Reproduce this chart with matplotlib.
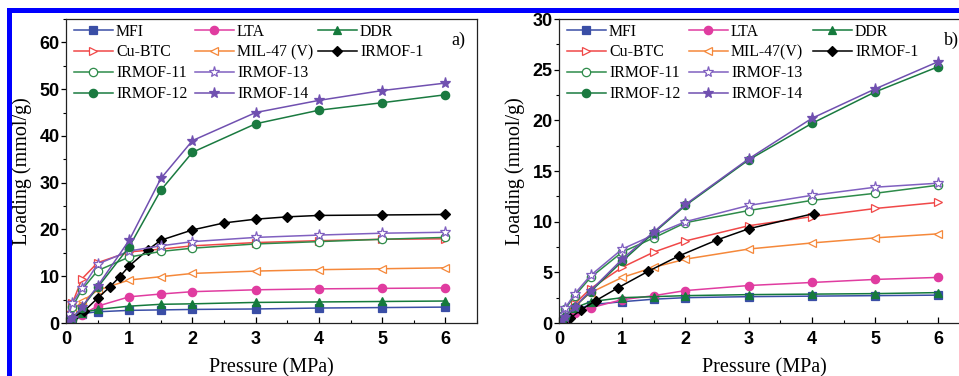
import matplotlib
matplotlib.use('Agg')
import matplotlib.pyplot as plt
from matplotlib.legend import Legend
from matplotlib.patches import Rectangle
from matplotlib.ticker import MultipleLocator

# --- datos ------------------------------------------------------------------
p_std = [0.05, 0.1, 0.25, 0.5, 1, 1.5, 2, 3, 4, 5, 6]

# panel a)
mfi_a = [0.6, 1.2, 2.0, 2.4, 2.7, 2.8, 2.9, 3.0, 3.2, 3.3, 3.4]
lta_a = [0.3, 0.7, 1.8, 3.6, 5.6, 6.2, 6.7, 7.1, 7.3, 7.4, 7.5]
ddr_a = [0.5, 1.0, 2.2, 2.9, 3.6, 4.0, 4.1, 4.4, 4.5, 4.6, 4.7]
cubtc_a = [2.0, 4.2, 9.4, 12.9, 15.2, 15.8, 16.5, 17.2, 17.6, 17.9, 18.0]
mil47_a = [1.2, 2.5, 4.6, 7.0, 9.2, 9.9, 10.6, 11.1, 11.4, 11.6, 11.8]
irmof1_p_a = [0.1, 0.29, 0.5, 0.7, 0.85, 1.0, 1.3, 1.5, 2.0, 2.5, 3.0, 3.5, 4.0, 5.0, 6.0]
irmof1_a = [1.1, 2.6, 5.3, 7.8, 9.9, 12.2, 15.7, 17.7, 19.9, 21.4, 22.2, 22.7, 23.0, 23.1, 23.2]
irmof11_a = [1.5, 3.4, 7.1, 11.2, 14.1, 15.3, 16.0, 16.9, 17.4, 17.9, 18.3]
irmof13_a = [2.0, 4.3, 7.4, 12.6, 15.4, 16.5, 17.4, 18.3, 18.8, 19.2, 19.4]
irmof12_a = [0.4, 0.9, 3.3, 7.6, 16.3, 28.4, 36.5, 42.6, 45.5, 47.1, 48.8]
irmof14_a = [0.4, 1.0, 3.4, 7.9, 17.7, 30.9, 39.0, 45.0, 47.6, 49.7, 51.3]

# panel b)
mfi_b = [0.4, 0.7, 1.3, 1.8, 2.1, 2.35, 2.5, 2.6, 2.65, 2.7, 2.75]
lta_b = [0.2, 0.4, 1.0, 1.5, 2.3, 2.7, 3.2, 3.7, 4.0, 4.3, 4.5]
ddr_b = [0.4, 0.8, 1.5, 2.1, 2.5, 2.6, 2.7, 2.8, 2.85, 2.9, 3.0]
cubtc_b = [0.4, 0.8, 1.9, 3.4, 5.5, 7.0, 8.1, 9.6, 10.5, 11.3, 11.9]
mil47_b = [0.35, 0.7, 1.7, 3.0, 4.5, 5.5, 6.3, 7.3, 7.9, 8.4, 8.8]
irmof1_p_b = [0.05, 0.18, 0.35, 0.58, 0.94, 1.41, 1.89, 2.5, 3.0, 4.03]
irmof1_b = [0.1, 0.5, 1.3, 2.2, 3.5, 5.1, 6.6, 8.2, 9.3, 10.8]
irmof11_b = [0.7, 1.4, 2.7, 4.5, 7.0, 8.4, 9.9, 11.1, 12.1, 12.8, 13.6]
irmof13_b = [0.75, 1.5, 2.9, 4.7, 7.3, 8.7, 10.0, 11.6, 12.6, 13.4, 13.8]
irmof12_b = [0.3, 0.6, 1.6, 3.1, 6.1, 8.9, 11.6, 16.1, 19.7, 22.8, 25.3]
irmof14_b = [0.3, 0.6, 1.6, 3.2, 6.3, 9.0, 11.7, 16.2, 20.2, 23.1, 25.8]

# --- estilos: (color, marcador, relleno) -------------------------------------
estilos = {
    'MFI': ('#3a4ea6', 's', True),
    'LTA': ('#e03ca0', 'o', True),
    'DDR': ('#157a3c', '^', True),
    'Cu-BTC': ('#f04848', '>', False),
    'MIL-47': ('#f5883a', '<', False),
    'IRMOF-1': ('#000000', 'D', True),
    'IRMOF-11': ('#2e8b4a', 'o', False),
    'IRMOF-13': ('#8060c0', '*', False),
    'IRMOF-12': ('#1a7a40', 'o', True),
    'IRMOF-14': ('#7050b0', '*', True),
}

serif = ['Liberation Serif', 'DejaVu Serif']
sans = ['Liberation Sans', 'DejaVu Sans']
W, H = 959.0, 376.0
AX_W, AX_H = 411.0, 304.0


def curva(ax, x, y, nombre, label):
    c, m, lleno = estilos[nombre]
    ms = 8 if m == '*' else (5.5 if m == 'D' else 6)
    return ax.plot(x, y, color=c, lw=1.1, marker=m, ms=ms,
                   mfc=c if lleno else 'white', mec=c, mew=0.9,
                   label=label)[0]


def panel(ax, datos, mil_label, ymax, ymaj, ymin, letra, cols_px):
    h = {}
    for nombre, x, y in datos:
        lab = mil_label if nombre == 'MIL-47' else nombre
        h[nombre] = curva(ax, x, y, nombre, lab)
    columnas = [['MFI', 'Cu-BTC', 'IRMOF-11', 'IRMOF-12'],
                ['LTA', 'MIL-47', 'IRMOF-13', 'IRMOF-14'],
                ['DDR', 'IRMOF-1']]
    # una leyenda por columna, colocada a mano
    for col, xpx in zip(columnas, cols_px):
        handles = [h[n] for n in col]
        leg = Legend(ax, handles, [l.get_label() for l in handles], loc='upper left',
                     bbox_to_anchor=(xpx / AX_W, 1 - 4.5 / AX_H), frameon=False,
                     borderpad=0.0, borderaxespad=0.0, handlelength=2.45,
                     handletextpad=0.2, labelspacing=0.31,
                     prop={'family': serif, 'size': 11.4})
        ax.add_artist(leg)
    ax.set_xlim(0, 6.5)
    ax.set_ylim(0, ymax)
    ax.xaxis.set_major_locator(MultipleLocator(1))
    ax.xaxis.set_minor_locator(MultipleLocator(0.5))
    ax.yaxis.set_major_locator(MultipleLocator(ymaj))
    ax.yaxis.set_minor_locator(MultipleLocator(ymin))
    ax.tick_params(axis='x', which='major', direction='in', length=4, width=0.9, pad=6)
    ax.tick_params(axis='x', which='minor', direction='in', length=2.5, width=0.8)
    ax.tick_params(axis='y', which='major', direction='out', length=3.5, width=0.9, pad=1)
    ax.tick_params(axis='y', which='minor', direction='out', length=2, width=0.8)
    for t in ax.get_xticklabels() + ax.get_yticklabels():
        t.set_family(sans)
        t.set_fontweight('bold')
        t.set_fontsize(13)
    for s in ax.spines.values():
        s.set_linewidth(0.9)
        s.set_color('#222222')
    ax.set_xlabel('Pressure (MPa)', family=serif, fontsize=14.5, labelpad=7)
    ax.set_ylabel('Loading (mmol/g)', family=serif, fontsize=14.5, labelpad=5.5)
    ax.text(0.955, 0.93, letra, transform=ax.transAxes, family=serif,
            fontsize=13, ha='center', va='center')


fig = plt.figure(figsize=(9.59, 3.76), dpi=100)
ax_a = fig.add_axes([66 / W, 53 / H, AX_W / W, AX_H / H])
ax_b = fig.add_axes([559 / W, 53 / H, AX_W / W, AX_H / H])

datos_a = [
    ('MFI', p_std, mfi_a), ('LTA', p_std, lta_a), ('DDR', p_std, ddr_a),
    ('Cu-BTC', p_std, cubtc_a), ('MIL-47', p_std, mil47_a),
    ('IRMOF-1', irmof1_p_a, irmof1_a), ('IRMOF-11', p_std, irmof11_a),
    ('IRMOF-13', p_std, irmof13_a), ('IRMOF-12', p_std, irmof12_a),
    ('IRMOF-14', p_std, irmof14_a),
]
datos_b = [
    ('MFI', p_std, mfi_b), ('LTA', p_std, lta_b), ('DDR', p_std, ddr_b),
    ('Cu-BTC', p_std, cubtc_b), ('MIL-47', p_std, mil47_b),
    ('IRMOF-1', irmof1_p_b, irmof1_b), ('IRMOF-11', p_std, irmof11_b),
    ('IRMOF-13', p_std, irmof13_b), ('IRMOF-12', p_std, irmof12_b),
    ('IRMOF-14', p_std, irmof14_b),
]

panel(ax_a, datos_a, 'MIL-47 (V)', 65, 10, 5, 'a)', [8, 129, 252])
panel(ax_b, datos_b, 'MIL-47(V)', 30, 5, 2.5, 'b)', [8, 130, 254])

# marco azul (solo izquierda y arriba visibles)
fig.add_artist(Rectangle((7 / W, 0), 5 / W, (H - 8) / H, transform=fig.transFigure,
                         color='#0000ff', lw=0))
fig.add_artist(Rectangle((7 / W, (H - 13) / H), 1 - 7 / W, 5 / H, transform=fig.transFigure,
                         color='#0000ff', lw=0))

fig.savefig('out.png', dpi=100)
